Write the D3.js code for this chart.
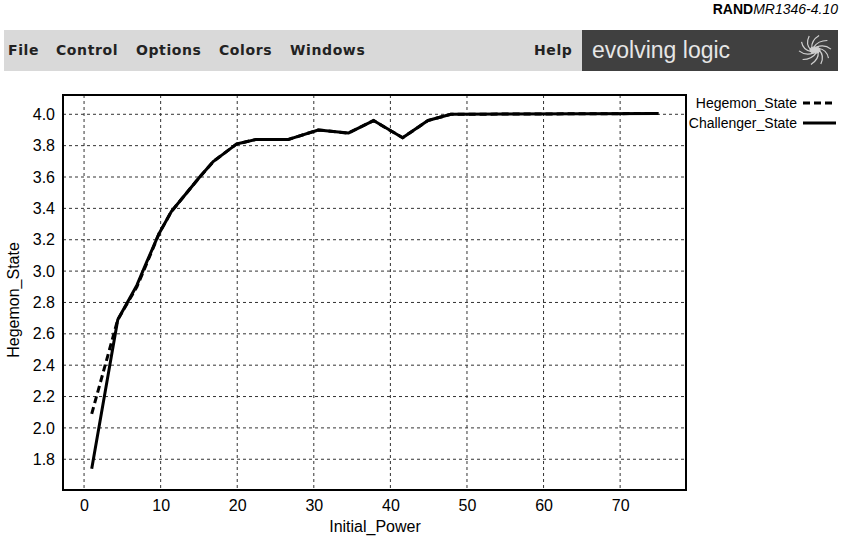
<!DOCTYPE html>
<html>
<head>
<meta charset="utf-8">
<script src="https://cdn.jsdelivr.net/npm/d3@7"></script>
<style>
  body { margin: 0; background: #fff; }
  svg text { font-family: "Liberation Sans", Arial, sans-serif; }
</style>
</head>
<body>
<div id="dataviz"></div>
<script>
// values
const powerChallenger = [1, 4.4, 6.9, 8.2, 9.8, 11.4, 15.1, 16.9, 19.9, 22.5, 26.7, 30.6, 34.5, 37.8, 41.6, 44.9, 47.9, 75];
const challengerState = [1.74, 2.69, 2.91, 3.06, 3.24, 3.38, 3.60, 3.70, 3.81, 3.84, 3.84, 3.90, 3.88, 3.96, 3.85, 3.96, 4.0, 4.005];
const powerHegemon = [1, 4.4, 6.9, 8.2, 9.8, 11.4, 15.1, 16.9, 19.9, 22.5, 26.7, 30.6, 34.5, 37.8, 41.6, 44.9, 47.9, 75];
const hegemonState = [2.09, 2.69, 2.90, 3.05, 3.24, 3.38, 3.60, 3.70, 3.81, 3.84, 3.84, 3.90, 3.88, 3.96, 3.85, 3.96, 4.0, 4.005];
const xTicks = [0, 10, 20, 30, 40, 50, 60, 70];
const yTicks = [1.8, 2.0, 2.2, 2.4, 2.6, 2.8, 3.0, 3.2, 3.4, 3.6, 3.8, 4.0];
const menuItems = ["File", "Control", "Options", "Colors", "Windows"];
const legendNames = ["Hegemon_State", "Challenger_State"];

var svg = d3.select("#dataviz")
  .append("svg")
    .attr("width", 842)
    .attr("height", 540);

// top-right figure id
var idText = svg.append("text")
  .attr("x", 838)
  .attr("y", 14)
  .attr("text-anchor", "end")
  .style("font-size", "14px");
idText.append("tspan").style("font-weight", "bold").text("RAND");
idText.append("tspan").style("font-style", "italic").text("MR1346-4.10");

// menu bar
svg.append("rect")
  .attr("x", 4).attr("y", 30)
  .attr("width", 580).attr("height", 41)
  .attr("fill", "#d9d9d9");

var menuX = [8, 56, 136, 219, 290];
svg.append("g")
  .selectAll("text")
  .data(menuItems)
  .enter()
  .append("text")
    .attr("x", function(d, i) { return menuX[i]; })
    .attr("y", 55)
    .style("font-family", "DejaVu Sans")
    .style("font-weight", "bold")
    .style("font-size", "14px")
    .style("letter-spacing", "0.6px")
    .attr("fill", "#222")
    .text(function(d) { return d; });

svg.append("text")
  .attr("x", 534).attr("y", 55)
  .style("font-family", "DejaVu Sans")
  .style("font-weight", "bold")
  .style("font-size", "14px")
  .style("letter-spacing", "0.6px")
  .attr("fill", "#222")
  .text("Help");

svg.append("rect")
  .attr("x", 582).attr("y", 30)
  .attr("width", 256).attr("height", 41)
  .attr("fill", "#404040");

svg.append("text")
  .attr("x", 592).attr("y", 58)
  .style("font-size", "23px")
  .attr("fill", "#e6e6e6")
  .text("evolving logic");

// little swirl logo
var logo = svg.append("g")
  .attr("transform", "translate(815,50)")
  .attr("fill", "none")
  .attr("stroke", "#cfcfcf")
  .attr("stroke-width", 1.2);
d3.range(10).forEach(function(i) {
  var a = i * Math.PI / 5;
  var p = d3.path();
  p.moveTo(4 * Math.cos(a), 3 * Math.sin(a));
  p.quadraticCurveTo(12 * Math.cos(a + 0.6), 10 * Math.sin(a + 0.6), 16 * Math.cos(a + 1.2), 15 * Math.sin(a + 1.2));
  logo.append("path").attr("d", p.toString());
});
logo.append("ellipse").attr("rx", 5).attr("ry", 3).attr("fill", "#cfcfcf");

// plot area
var margin = {top: 95, right: 156, bottom: 50, left: 63};
var width = 842 - margin.left - margin.right;
var height = 540 - margin.top - margin.bottom;

var g = svg.append("g")
  .attr("transform", "translate(" + margin.left + "," + margin.top + ")");

var x = d3.scaleLinear()
  .domain([-2.75, 78.6])
  .range([0, width]);

var y = d3.scaleLinear()
  .domain([1.604, 4.123])
  .range([height, 0]);

// grid
g.append("g")
  .selectAll("line")
  .data(xTicks)
  .enter()
  .append("line")
    .attr("x1", function(d) { return x(d); })
    .attr("x2", function(d) { return x(d); })
    .attr("y1", 0)
    .attr("y2", height)
    .attr("stroke", "#333")
    .attr("stroke-width", 1)
    .attr("stroke-dasharray", "3,3");

g.append("g")
  .selectAll("line")
  .data(yTicks)
  .enter()
  .append("line")
    .attr("x1", 0)
    .attr("x2", width)
    .attr("y1", function(d) { return y(d); })
    .attr("y2", function(d) { return y(d); })
    .attr("stroke", "#333")
    .attr("stroke-width", 1)
    .attr("stroke-dasharray", "3,3");

// axes, labels only
var xAxis = g.append("g")
  .attr("transform", "translate(0," + height + ")")
  .call(d3.axisBottom(x).tickValues(xTicks).tickSize(0).tickPadding(10).tickFormat(d3.format("d")));
xAxis.select(".domain").remove();
xAxis.selectAll("text").style("font-size", "16px").style("font-family", "Liberation Sans");

var yAxis = g.append("g")
  .call(d3.axisLeft(y).tickValues(yTicks).tickSize(0).tickPadding(8).tickFormat(d3.format(".1f")));
yAxis.select(".domain").remove();
yAxis.selectAll("text").style("font-size", "16px").style("font-family", "Liberation Sans");

svg.append("text")
  .attr("x", 375)
  .attr("y", 532)
  .attr("text-anchor", "middle")
  .style("font-size", "16px")
  .text("Initial_Power");

svg.append("text")
  .attr("transform", "rotate(-90)")
  .attr("x", -300)
  .attr("y", 19)
  .attr("text-anchor", "middle")
  .style("font-size", "16px")
  .text("Hegemon_State");

// lines
var line = d3.line()
  .x(function(d) { return x(d[0]); })
  .y(function(d) { return y(d[1]); });

g.append("path")
  .datum(d3.zip(powerHegemon, hegemonState))
  .attr("fill", "none")
  .attr("stroke", "#000")
  .attr("stroke-width", 3)
  .attr("stroke-dasharray", "7,4")
  .attr("d", line);

g.append("path")
  .datum(d3.zip(powerChallenger, challengerState))
  .attr("fill", "none")
  .attr("stroke", "#000")
  .attr("stroke-width", 3)
  .attr("stroke-linejoin", "round")
  .attr("d", line);

// frame
g.append("rect")
  .attr("width", width)
  .attr("height", height)
  .attr("fill", "none")
  .attr("stroke", "#000")
  .attr("stroke-width", 2);

// legend
var legend = svg.append("g")
  .selectAll("g")
  .data(legendNames)
  .enter()
  .append("g")
    .attr("transform", function(d, i) { return "translate(0," + (103 + i * 20) + ")"; });

legend.append("text")
  .attr("x", 797)
  .attr("y", 5)
  .attr("text-anchor", "end")
  .style("font-size", "14px")
  .text(function(d) { return d; });

legend.append("line")
  .attr("x1", 803)
  .attr("x2", 836)
  .attr("y1", 0)
  .attr("y2", 0)
  .attr("stroke", "#000")
  .attr("stroke-width", 3)
  .attr("stroke-dasharray", function(d, i) { return i === 0 ? "7,4" : null; });
</script>
</body>
</html>
